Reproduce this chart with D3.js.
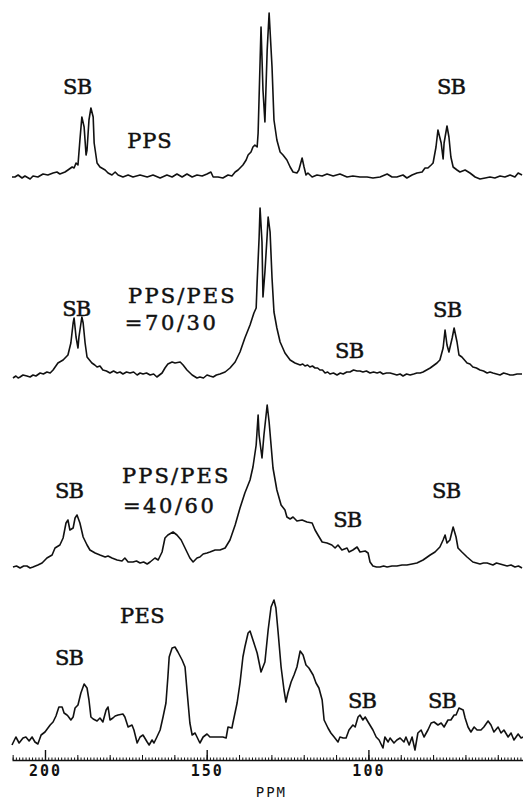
<!DOCTYPE html>
<html>
<head>
<meta charset="utf-8">
<script src="https://cdn.jsdelivr.net/npm/d3@7"></script>
<style>
  html, body { margin: 0; padding: 0; background: #fff; }
  svg { display: block; }
  .trace { fill: none; stroke: #111; stroke-width: 1.6; stroke-linejoin: round; }
  .lbl { font-family: "DejaVu Serif", serif; font-size: 21px; fill: #111; stroke: #111; stroke-width: 0.5; }
  .axis path, .axis line { stroke: #111; }
  .axis text { font-family: "DejaVu Sans Mono", monospace; font-weight: bold; font-size: 15px; fill: #111; letter-spacing: 2px; }
  .unit { font-family: "DejaVu Sans Mono", monospace; font-size: 14px; fill: #111; letter-spacing: 2px; }
</style>
</head>
<body>
<svg id="chart"></svg>
<script>
// spectra: [ppm, intensity above baseline]
var pps = [
  [210.2,1],[209.3,1],[208.3,3],[207.1,0],[206.2,2],[204.6,-1],[203.7,2],[202.2,1],[200.6,4],[199.1,3],
  [197.5,5],[196.3,6],[195.4,4],[193.8,6],[192.9,8],[191.6,11],[191.0,10],[190.4,15],[189.8,13],[189.2,38],
  [188.6,61],[187.9,51],[187.3,23],[187.0,28],[186.4,58],[185.8,70],[185.1,61],[184.8,35],[183.9,15],[183.0,11],
  [181.4,8],[180.5,5],[179.3,3],[178.3,6],[177.4,3],[175.9,1],[174.3,3],[172.8,1],[170.6,3],[168.4,1],
  [166.6,3],[164.4,0],[162.3,3],[160.7,1],[159.2,4],[157.6,1],[156.1,4],[154.5,1],[153.0,3],[151.4,2],
  [149.9,4],[148.7,6],[148.0,1],[146.5,1],[145.0,0],[143.4,3],[142.2,2],[141.2,6],[140.3,8],[139.4,11],
  [138.8,13],[137.8,18],[137.2,23],[136.3,26],[135.7,31],[135.1,33],[134.4,31],[134.1,45],[133.2,151],[132.6,88],
  [132.0,56],[131.3,128],[130.7,165],[129.8,111],[129.2,58],[128.3,38],[127.3,26],[126.4,23],[125.2,18],[124.2,11],
  [123.3,6],[122.1,5],[121.5,8],[120.5,20],[119.9,11],[119.3,3],[118.7,5],[117.4,1],[115.9,3],[114.3,2],
  [112.8,4],[110.9,2],[108.8,4],[106.6,1],[104.8,2],[102.6,1],[100.4,1],[98.6,0],[96.4,1],[94.2,4],
  [92.7,1],[91.2,1],[89.3,3],[88.1,0],[86.5,3],[85.0,5],[83.4,6],[82.5,10],[81.6,10],[80.6,13],
  [80.0,15],[79.1,31],[78.5,48],[77.5,35],[76.9,19],[76.6,35],[75.7,52],[75.1,41],[74.5,21],[73.8,11],
  [72.6,8],[71.7,6],[70.1,8],[68.6,5],[67.0,1],[65.5,-1],[63.9,0],[62.4,1],[60.9,0],[59.3,2],
  [57.8,1],[56.2,3],[54.7,1],[53.7,5],[52.5,3]
];
var pps7030 = [
  [209.9,0],[209.0,2],[208.3,0],[207.7,1],[206.8,3],[205.6,2],[204.6,1],[203.7,3],[202.8,2],[201.5,5],
  [200.5,4],[199.4,6],[198.4,5],[197.5,8],[196.0,15],[194.4,18],[192.9,23],
  [192.0,35],[191.3,55],[191.0,60],[190.4,41],[189.8,30],[189.5,41],[188.6,61],[188.2,55],[187.6,35],[187.0,21],
  [185.5,15],[184.6,13],[183.9,11],[183.0,12],[182.1,8],[181.0,7],[179.9,5],[178.8,7],[177.7,5],[176.8,6],[175.9,4],
  [174.8,6],[173.7,5],[172.6,6],[171.5,3],[170.6,5],[169.7,4],[168.6,5],[167.5,3],[166.4,4],
  [165.4,1],[163.8,5],[162.9,10],[162.0,14],[160.7,16],[159.8,15],[158.2,16],[157.3,13],[156.1,8],[154.5,3],
  [153.0,0],[152.1,1],[151.0,0],[149.9,3],[149.0,2],[148.0,1],[147.0,3],[145.9,4],[144.3,6],[142.8,10],[141.2,16],[139.7,26],[138.2,40],
  [136.6,53],[135.4,65],[134.7,70],[134.4,96],[133.8,140],[133.5,170],[132.9,136],[132.6,81],[132.0,106],[131.3,143],
  [131.0,161],[130.4,146],[129.8,100],[129.2,66],[128.3,50],[127.3,36],[125.8,25],[124.2,18],[122.7,15],[121.1,13],
  [120.3,14],[119.6,12],[118.8,13],[118.1,11],[117.3,12],[116.5,10],[115.7,10],[115.0,8],[114.2,8],[113.4,5],[112.6,6],[111.9,4],
  [110.8,5],[109.7,3],[108.7,5],[107.8,4],[106.7,6],[105.7,6],[104.6,8],[103.5,7],
  [102.6,7],[101.7,6],[100.6,7],[99.5,5],[98.4,6],[97.3,5],[96.4,6],[95.5,4],[94.4,5],[93.3,5],[92.2,4],[91.2,3],[90.2,4],[89.3,2],
  [88.2,4],[87.1,3],[86.0,4],[85.0,5],[84.0,5],[83.1,6],
  [80.9,10],[78.8,15],[77.9,18],[76.9,30],[76.3,48],[75.7,33],[75.1,26],[74.1,40],[73.5,50],[72.6,36],
  [72.0,23],[71.1,21],[69.5,15],[68.6,14],[67.7,11],[66.6,10],[65.5,8],[64.4,7],[63.3,5],[62.4,6],[61.5,5],
  [60.4,4],[59.3,3],[58.2,5],[57.1,4],[56.2,3],[55.3,3],[54.0,4],[52.5,4]
];
var pps4060 = [
  [209.9,1],[208.8,2],[207.7,0],[206.6,2],[205.6,2],[204.6,0],[203.7,1],[202.2,3],[200.9,5],[199.4,10],[197.8,13],[196.9,20],[195.4,23],
  [194.4,30],[193.5,45],[192.9,48],[192.3,38],[191.3,40],[190.7,50],[190.1,53],[189.2,45],[188.2,31],[187.0,23],
  [186.1,18],[184.5,15],[183.0,13],[181.4,11],[180.5,12],[179.3,10],[177.7,8],[176.2,7],[175.3,10],[174.3,6],
  [172.8,6],[171.7,7],[170.6,5],[169.5,6],[168.4,4],[167.5,6],[166.0,10],[165.0,8],[163.8,16],[162.9,30],[162.0,33],[160.4,36],
  [159.2,33],[157.9,28],[157.3,24],[156.1,16],[155.2,10],[154.2,6],[153.0,10],[152.1,11],[151.1,14],[149.9,15],
  [149.0,16],[147.4,18],[145.9,18],[144.3,20],[142.8,28],[141.2,43],[139.7,60],[138.2,75],[136.6,88],[135.7,101],
  [134.7,123],[134.1,153],[133.8,133],[132.9,110],[132.3,133],[131.3,163],[130.7,146],[130.1,123],[129.5,100],[128.3,78],
  [127.0,63],[125.8,58],[125.2,51],[124.2,49],[123.3,51],[122.1,47],[120.5,48],[119.0,46],[117.4,45],[116.5,38],
  [115.6,33],[114.3,26],[112.8,25],[111.3,23],[110.3,20],[109.4,23],[108.2,18],[106.6,20],[106.0,16],[104.8,18],
  [103.5,21],[102.6,16],[101.0,17],[100.1,15],[99.5,6],[98.6,2],[97.5,1],[96.4,1],[95.3,2],[94.2,1],[92.7,2],[91.2,2],[89.6,3],[88.1,3],
  [86.5,4],[85.0,5],[83.1,8],[80.9,13],[79.4,16],[77.9,21],[76.9,28],[76.3,33],[75.7,25],[74.8,28],[73.8,41],
  [72.9,31],[72.3,20],[71.1,16],[69.5,11],[67.7,6],[66.6,5],[65.5,4],[64.4,5],[63.3,5],[62.4,4],[61.5,3],[60.4,5],[59.3,4],[58.2,3],[57.1,2],
  [55.9,3],[54.7,1],[53.6,2],[52.5,0]
];
var pes = [
  [210.2,3],[209.0,11],[208.0,5],[206.8,10],[205.9,11],[204.9,7],[204.0,11],[203.1,6],[202.2,4],[201.2,13],
  [200.0,16],[198.4,23],[197.5,26],[196.6,32],[195.7,41],[194.7,41],[194.1,35],[193.2,33],[192.9,32],[192.0,28],
  [191.3,31],[190.7,40],[189.8,43],[188.9,55],[187.9,64],[187.0,60],[186.4,48],[185.8,31],[185.1,29],[183.9,27],
  [183.0,30],[182.1,26],[181.1,38],[180.5,41],[179.9,28],[179.0,30],[178.3,32],[177.4,33],[175.9,34],[175.3,31],
  [174.3,21],[173.1,23],[172.5,18],[171.5,5],[170.6,11],[169.7,13],[168.4,6],[167.8,3],[166.9,8],[166.3,5],
  [165.4,11],[164.4,18],[163.5,31],[162.6,45],[162.0,71],[161.6,91],[160.7,100],[159.8,101],[158.9,96],[157.6,88],
  [156.7,81],[156.1,58],[155.2,25],[154.5,13],[153.6,15],[153.0,11],[152.1,5],[151.1,11],[149.9,14],[149.0,11],
  [146.8,11],[145.0,11],[144.0,10],[143.4,21],[142.2,20],[141.9,25],[140.6,45],[139.7,65],[138.8,91],[138.2,101],
  [137.2,115],[136.6,117],[135.7,108],[134.4,95],[133.2,76],[132.0,86],[131.0,118],[130.1,141],[129.2,148],[128.6,140],
  [127.9,115],[127.0,81],[126.1,58],[125.5,46],[124.9,55],[123.9,66],[123.0,73],[122.1,81],[121.1,97],[120.2,93],
  [119.3,83],[118.4,80],[117.1,73],[116.2,65],[115.3,60],[114.3,48],[113.7,28],[112.5,20],[111.6,15],[110.6,11],
  [109.4,6],[108.8,11],[107.8,10],[106.9,10],[106.0,18],[104.8,23],[104.1,21],[103.2,31],[102.6,33],[101.7,28],
  [101.0,31],[100.1,26],[98.6,18],[97.6,11],[96.7,8],[95.5,0],[94.9,11],[93.9,6],[93.3,10],[92.1,5],
  [91.2,8],[90.2,10],[89.0,6],[88.4,11],[87.4,3],[86.5,11],[85.6,-2],[84.7,15],[83.7,18],[82.8,11],
  [81.6,18],[80.6,25],[79.7,26],[78.5,23],[77.5,25],[76.6,21],[75.4,28],[74.5,28],[73.5,33],[72.9,33],
  [72.0,40],[70.7,38],[70.1,30],[69.2,21],[68.3,16],[67.3,21],[66.4,18],[65.2,18],[64.3,21],[63.0,27],
  [62.1,23],[61.2,16],[59.9,21],[59.0,15],[58.1,18],[56.8,11],[55.9,15],[55.0,8],[53.7,14],[52.8,10],
  [52.2,11]
];

// annotations: [trace, text, ppm (left edge), height]
var notes = [
  [0,"SB",194.4,84],[0,"PPS",174.6,30],[0,"SB",78.8,84],
  [1,"SB",194.7,62],[1,"PPS/PES",174.3,75],[1,"=70/30",175.3,48],[1,"SB",110.3,20],[1,"SB",80.0,61],
  [2,"SB",196.9,70],[2,"PPS/PES",176.2,85],[2,"=40/60",175.9,55],[2,"SB",110.9,41],[2,"SB",80.3,70],
  [3,"PES",176.8,125],[3,"SB",196.9,83],[3,"SB",106.3,40],[3,"SB",81.6,40]
];

var ppmRange = [210.2, 52.2];
var majorTicks = [200, 150, 100];
var midTicks = d3.range(60, 211, 10);
var minorTicks = d3.range(53, 211, 1);

var W = 523, H = 801;
var traces = [pps, pps7030, pps4060, pes],
    baselines = [178, 378, 568, 748],
    charW = 15.5; // typewriter advance of the labels

var svg = d3.select("#chart").attr("width", W).attr("height", H);

var x = d3.scaleLinear().domain(ppmRange).range([12, 523]);
var y = d3.scaleLinear().domain([0, 170]).range([0, -170]);

var line = d3.line()
    .x(function(d) { return x(d[0]); })
    .y(function(d) { return y(d[1]); });

var g = svg.selectAll("g.spec")
    .data(traces)
  .enter().append("g")
    .attr("class", "spec")
    .attr("transform", function(d, i) { return "translate(0," + baselines[i] + ")"; });

g.append("path")
    .attr("class", "trace")
    .attr("d", line);

svg.selectAll("text.lbl")
    .data(notes)
  .enter().append("text")
    .attr("class", "lbl")
    .attr("x", function(d) { return x(d[2]); })
    .attr("y", function(d) { return baselines[d[0]] + y(d[3]); })
    .attr("textLength", function(d) { return d[1].length * charW - 2; })
    .attr("lengthAdjust", "spacing")
    .text(function(d) { return d[1]; });

// axis: three tick layers, ticks pointing up
var axisY = 760;
svg.append("g")
    .attr("class", "axis")
    .attr("transform", "translate(0," + axisY + ")")
    .call(d3.axisBottom(x).tickValues(minorTicks).tickSizeInner(-2.5).tickSizeOuter(0).tickFormat(""))
    .call(function(s) { s.select(".domain").attr("stroke-width", 1.6); });

svg.append("g")
    .attr("class", "axis")
    .attr("transform", "translate(0," + axisY + ")")
    .call(d3.axisBottom(x).tickValues(midTicks).tickSizeInner(-5).tickSizeOuter(0).tickFormat(""))
    .call(function(s) { s.select(".domain").remove(); });

svg.append("g")
    .attr("class", "axis")
    .attr("transform", "translate(0," + axisY + ")")
    .call(d3.axisBottom(x).tickValues(majorTicks).tickSizeInner(-10).tickSizeOuter(0).tickPadding(5).tickFormat(d3.format("d")))
    .call(function(s) {
        s.select(".domain").remove();
        s.selectAll("line").attr("stroke-width", 1.4);
    });

svg.append("text")
    .attr("class", "unit")
    .attr("x", x(130.0))
    .attr("y", 797)
    .attr("text-anchor", "middle")
    .text("PPM");
</script>
</body>
</html>
